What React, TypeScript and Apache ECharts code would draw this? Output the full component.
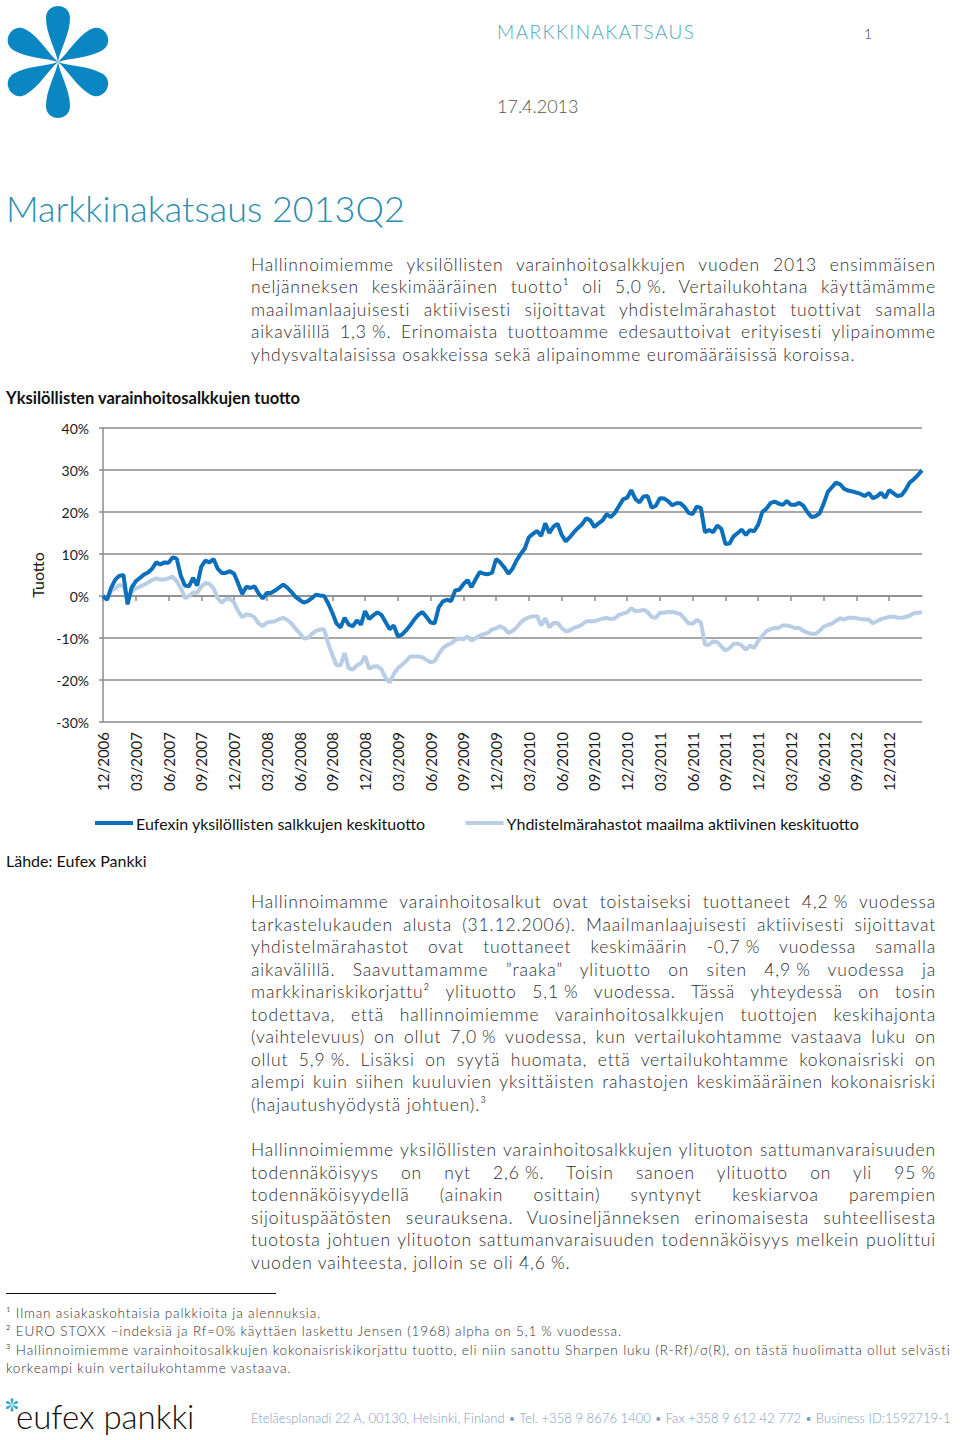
import React, { useEffect, useRef } from "react";
import * as echarts from "echarts";

// ---------- DATA ----------
const quarterLabels = [
  "12/2006", "03/2007", "06/2007", "09/2007", "12/2007", "03/2008", "06/2008", "09/2008", "12/2008",
  "03/2009", "06/2009", "09/2009", "12/2009", "03/2010", "06/2010", "09/2010", "12/2010",
  "03/2011", "06/2011", "09/2011", "12/2011", "03/2012", "06/2012", "09/2012", "12/2012",
];
const pointsPerQuarter = 8;

const seriesNames = [
  "Eufexin yksilöllisten salkkujen keskituotto",
  "Yhdistelmärahastot maailma aktiivinen keskituotto",
];

// Eufex individual portfolios, cumulative return %
const eufexReturn = [
  0, -0.9, 2.0, 3.9, 4.8, 5.0, -2.0, 2.0,
  3.5, 4.3, 5.1, 5.6, 6.5, 8.0, 7.5, 8.0,
  7.9, 9.2, 8.9, 4.8, 2.5, 2.3, 4.3, 2.5,
  7.0, 8.4, 8.0, 8.8, 6.5, 5.5, 5.5, 5.9,
  5.3, 3.0, 0.5, 2.2, 1.9, 2.3, 0.6, -0.6,
  0.7, 0.7, 1.3, 2.0, 2.7, 2.0, 1.0, -0.2,
  -0.9, -1.6, -1.2, -0.5, 0.3, 0.1, 0, -1.8,
  -4.0, -6.5, -7.5, -5.2, -6.8, -7.2, -5.8, -6.8,
  -3.6, -5.5, -4.6, -3.9, -4.5, -6.2, -7.9, -7.0,
  -9.6, -9.2, -8.2, -7.0, -5.6, -4.5, -3.8, -5.0,
  -6.3, -6.5, -2.7, -1.3, -0.9, -1.2, 1.3, 1.5,
  2.8, 3.8, 2.1, 4.0, 5.7, 5.3, 5.2, 5.5,
  8.8, 8.0, 6.8, 5.3, 6.5, 8.5, 10.0, 11.3,
  14.0, 14.8, 15.5, 14.3, 17.3, 15.0, 16.5, 17.2,
  14.6, 13.0, 14.0, 15.2, 16.2, 17.1, 18.5, 18.0,
  16.4, 17.3, 18.0, 19.5, 18.8, 19.8, 21.4, 23.0,
  23.4, 25.2, 23.1, 22.3, 23.7, 23.8, 21.0, 21.5,
  23.3, 23.2, 22.6, 21.6, 22.1, 22.1, 21.2, 19.8,
  19.5, 21.3, 21.0, 15.2, 15.7, 15.2, 16.8, 16.0,
  12.4, 12.5, 14.2, 15.0, 15.8, 14.5, 15.7, 15.4,
  17.0, 20.0, 20.8, 22.1, 22.5, 22.0, 21.7, 22.6,
  21.7, 21.7, 22.2, 21.5, 20.0, 18.8, 19.0, 19.7,
  22.0, 24.8, 25.9, 27.0, 26.6, 25.5, 25.1, 24.9,
  24.6, 24.3, 23.8, 24.5, 23.3, 23.7, 24.6, 23.4,
  25.2, 24.5, 23.8, 24.0, 25.3, 27.0, 27.8, 28.8,
  29.9,
];

// Global actively managed balanced funds, cumulative return %
const fundsReturn = [
  0, -0.5, 1.2, 1.9, 2.6, 2.4, -0.8, 1.0,
  1.8, 2.2, 2.7, 3.2, 3.8, 4.2, 3.9, 3.9,
  4.2, 4.6, 3.5, 1.9, -0.5, 0.0, 0.8, 0.8,
  2.2, 3.1, 2.9, 1.8, -0.5, -1.6, -0.7, -0.7,
  -1.5, -3.6, -5.0, -4.4, -4.5, -5.1, -6.5, -7.2,
  -6.3, -6.2, -6.0, -5.5, -5.2, -5.7, -6.5, -7.8,
  -8.8, -10.1, -10.0, -9.0, -8.3, -8.0, -8.0, -11.3,
  -14.0, -16.5, -16.5, -13.6, -17.2, -17.5, -16.5, -16.0,
  -14.3, -17.3, -16.8, -16.7, -17.5, -19.4, -20.6, -18.6,
  -17.2, -16.4, -15.5, -14.4, -14.4, -14.4, -14.6, -15.2,
  -15.8, -15.5, -13.8, -12.4, -11.7, -11.3, -10.5, -10.1,
  -10.3, -9.6, -10.6, -10.0, -9.4, -9.1, -8.8, -8.0,
  -7.7, -7.2, -7.7, -8.8, -8.3, -7.5, -6.3, -5.5,
  -5.1, -4.8, -4.8, -7.0, -5.3, -7.5, -6.4, -6.4,
  -7.6, -8.4, -8.2, -7.6, -7.3, -6.8, -6.0, -6.0,
  -6.0, -5.7, -5.4, -5.2, -5.5, -5.3, -4.5, -4.2,
  -3.9, -2.9, -3.6, -3.5, -3.3, -3.8, -5.0, -5.2,
  -4.0, -4.0, -3.8, -3.8, -4.0, -4.3, -5.4, -6.5,
  -6.6, -5.7, -6.3, -11.6, -11.6, -10.8, -11.0, -12.0,
  -13.0, -12.4, -11.4, -11.3, -11.8, -12.8, -11.8, -12.4,
  -10.7, -9.5, -8.4, -7.9, -7.6, -7.6, -7.0, -7.0,
  -7.3, -7.6, -7.6, -8.3, -8.7, -9.0, -9.0, -8.3,
  -7.3, -6.9, -6.6, -5.9, -5.3, -5.6, -5.2, -5.2,
  -5.3, -5.5, -5.6, -5.6, -6.5, -6.0, -5.5, -5.2,
  -5.0, -4.9, -5.1, -5.2, -5.0, -4.7, -4.1, -4.0,
  -3.9,
];

const yMin = -30;
const yMax = 40;
const yInterval = 10;

// ---------- TEXTS ----------
const para1 = [
  "Hallinnoimiemme yksilöllisten varainhoitosalkkujen vuoden 2013 ensimmäisen",
  "neljänneksen keskimääräinen tuotto¹ oli 5,0\u202F%. Vertailukohtana käyttämämme",
  "maailmanlaajuisesti aktiivisesti sijoittavat yhdistelmärahastot tuottivat samalla",
  "aikavälillä 1,3\u202F%. Erinomaista tuottoamme edesauttoivat erityisesti ylipainomme",
  "yhdysvaltalaisissa osakkeissa sekä alipainomme euromääräisissä koroissa.",
];
const para2 = [
  "Hallinnoimamme varainhoitosalkut ovat toistaiseksi tuottaneet 4,2\u202F% vuodessa",
  "tarkastelukauden alusta (31.12.2006). Maailmanlaajuisesti aktiivisesti sijoittavat",
  "yhdistelmärahastot ovat tuottaneet keskimäärin -0,7\u202F% vuodessa samalla",
  "aikavälillä. Saavuttamamme ”raaka” ylituotto on siten 4,9\u202F% vuodessa ja",
  "markkinariskikorjattu² ylituotto 5,1\u202F% vuodessa. Tässä yhteydessä on tosin",
  "todettava, että hallinnoimiemme varainhoitosalkkujen tuottojen keskihajonta",
  "(vaihtelevuus) on ollut 7,0\u202F% vuodessa, kun vertailukohtamme vastaava luku on",
  "ollut 5,9\u202F%. Lisäksi on syytä huomata, että vertailukohtamme kokonaisriski on",
  "alempi kuin siihen kuuluvien yksittäisten rahastojen keskimääräinen kokonaisriski",
  "(hajautushyödystä johtuen).³",
];
const para3 = [
  "Hallinnoimiemme yksilöllisten varainhoitosalkkujen ylituoton sattumanvaraisuuden",
  "todennäköisyys on nyt 2,6\u202F%. Toisin sanoen ylituotto on yli 95\u202F%",
  "todennäköisyydellä (ainakin osittain) syntynyt keskiarvoa parempien",
  "sijoituspäätösten seurauksena. Vuosineljänneksen erinomaisesta suhteellisesta",
  "tuotosta johtuen ylituoton sattumanvaraisuuden todennäköisyys melkein puolittui",
  "vuoden vaihteesta, jolloin se oli 4,6\u202F%.",
];
const footnotes = [
  "¹ Ilman asiakaskohtaisia palkkioita ja alennuksia.",
  "² EURO STOXX –indeksiä ja Rf=0% käyttäen laskettu Jensen (1968) alpha on 5,1\u202F% vuodessa.",
  "³ Hallinnoimiemme varainhoitosalkkujen kokonaisriskikorjattu tuotto, eli niin sanottu Sharpen luku (R-Rf)/σ(R), on tästä huolimatta ollut selvästi",
  "korkeampi kuin vertailukohtamme vastaava.",
];

const FONT = "Lato, 'Open Sans', 'DejaVu Sans', sans-serif";

const PETAL_D =
  "M0,0 C-2,-12 -12,-28 -12,-44 C-12,-60 12,-60 12,-44 C12,-28 2,-12 0,0 Z";
let petalRegistered = false;
function ensurePetal() {
  if (petalRegistered) return;
  echarts.graphic.registerShape("petal", echarts.graphic.extendPath(PETAL_D, {}) as any);
  petalRegistered = true;
}

function petals(cx: number, cy: number, scale: number, fill: string) {
  const out: any[] = [];
  for (let k = 0; k < 6; k++) {
    out.push({
      type: "petal",
      x: cx,
      y: cy,
      scaleX: scale,
      scaleY: scale,
      rotation: (k * Math.PI) / 3,
      style: { fill },
      silent: true,
    });
  }
  return out;
}

function buildOption() {
  const categories = eufexReturn.map((_, i) => String(i));
  const isQuarter = (i: number) => i % pointsPerQuarter === 0;
  const labelFor = (i: number) =>
    isQuarter(i) ? quarterLabels[i / pointsPerQuarter] ?? "" : "";

  return {
    animation: false,
    textStyle: { fontFamily: FONT },
    grid: { left: 103, right: 38, top: 428, bottom: 718, containLabel: false },
    legend: {
      left: 95,
      top: 815,
      padding: 0,
      icon: "rect",
      itemWidth: 38,
      itemHeight: 4,
      itemGap: 40,
      selectedMode: false,
      textStyle: { fontSize: 16, color: "#111", fontFamily: FONT, padding: [0, 0, 0, -2] },
      data: [seriesNames[0], seriesNames[1]],
    },
    xAxis: [
      {
        type: "category",
        position: "bottom",
        data: categories,
        boundaryGap: false,
        axisLine: { show: true, onZero: true, lineStyle: { color: "#8c8c8c", width: 1.5 } },
        axisTick: {
          show: true,
          length: 5,
          interval: (i: number) => isQuarter(i) && i < eufexReturn.length - 1,
          lineStyle: { color: "#8c8c8c", width: 1.5 },
        },
        axisLabel: { show: false },
        splitLine: { show: false },
      },
      {
        type: "category",
        position: "bottom",
        data: categories,
        boundaryGap: false,
        axisLine: { show: false, onZero: false },
        axisTick: { show: false },
        axisLabel: {
          show: true,
          rotate: 90,
          margin: 10,
          fontSize: 15,
          color: "#1a1a1a",
          fontFamily: FONT,
          interval: (i: number) => isQuarter(i) && labelFor(i) !== "",
          formatter: (_v: string, i: number) => labelFor(i),
        },
        splitLine: { show: false },
      },
    ],
    yAxis: {
      type: "value",
      min: yMin,
      max: yMax,
      interval: yInterval,
      name: "Tuotto",
      nameLocation: "middle",
      nameGap: 57,
      nameRotate: 90,
      nameTextStyle: { fontSize: 16, color: "#1a1a1a", fontFamily: FONT },
      axisLine: { show: true, lineStyle: { color: "#8c8c8c", width: 1.5 } },
      axisTick: { show: true, length: 4, lineStyle: { color: "#8c8c8c", width: 1.5 } },
      axisLabel: { formatter: "{value}%", fontSize: 14, color: "#1a1a1a", margin: 14, fontFamily: FONT },
      splitLine: { show: true, lineStyle: { color: "#8c8c8c", width: 1.5 } },
    },
    series: [
      {
        name: seriesNames[1],
        type: "line",
        data: fundsReturn,
        xAxisIndex: 0,
        showSymbol: false,
        symbol: "none",
        lineStyle: { color: "#b9cde5", width: 4 },
        itemStyle: { color: "#b9cde5" },
        z: 2,
      },
      {
        name: seriesNames[0],
        type: "line",
        data: eufexReturn,
        xAxisIndex: 0,
        showSymbol: false,
        symbol: "none",
        lineStyle: { color: "#0b6fbb", width: 4 },
        itemStyle: { color: "#0b6fbb" },
        z: 3,
      },
    ],
    graphic: [
      ...petals(58, 62, 1, "#0a86c2"),
      ...petals(12, 1405, 0.12, "#3aa9c9"),
      {
        type: "text",
        x: 6,
        y: 398,
        style: {
          text: "Yksilöllisten varainhoitosalkkujen tuotto",
          fontSize: 16.5,
          fontWeight: "bold",
          fontFamily: FONT,
          fill: "#111",
          verticalAlign: "middle",
        },
      },
      {
        type: "text",
        x: 6,
        y: 860,
        style: {
          text: "Lähde: Eufex Pankki",
          fontSize: 16,
          fontFamily: FONT,
          fill: "#111",
          verticalAlign: "middle",
        },
      },
      {
        type: "text",
        x: 16,
        y: 1416,
        style: {
          text: "eufex pankki",
          fontSize: 33,
          fontWeight: 300,
          fontFamily: FONT,
          fill: "#111",
          verticalAlign: "middle",
        },
      },
    ],
  };
}

function Paragraph(props: { lines: string[]; top: number; left: number; width: number; lineHeight: number; fontSize: number }) {
  const { lines, top, left, width, lineHeight, fontSize } = props;
  return (
    <div
      style={{
        position: "absolute",
        left,
        top,
        width,
        fontSize,
        lineHeight: lineHeight + "px",
        color: "#2e2e2e",
        fontWeight: 300,
        letterSpacing: 0.85,
        fontFamily: FONT,
      }}
    >
      {lines.map((l, i) => {
        const last = i === lines.length - 1;
        return (
          <div
            key={i}
            style={{
              textAlign: last ? "left" : "justify",
              textAlignLast: last ? "left" : "justify",
              whiteSpace: "nowrap",
            } as React.CSSProperties}
          >
            {l}
          </div>
        );
      })}
    </div>
  );
}

export default function App() {
  const ref = useRef<HTMLDivElement>(null);
  useEffect(() => {
    ensurePetal();
    const chart = echarts.init(ref.current as HTMLDivElement, null, { renderer: "svg" });
    chart.setOption(buildOption() as any);
    return () => chart.dispose();
  }, []);

  const abs = (left: number, top: number, extra: React.CSSProperties): React.CSSProperties => ({
    position: "absolute",
    left,
    top,
    whiteSpace: "nowrap",
    fontFamily: FONT,
    lineHeight: 1.2,
    ...extra,
  });

  return (
    <div
      style={{
        position: "absolute",
        left: 0,
        top: 0,
        width: 960,
        height: 1440,
        background: "#fff",
        overflow: "hidden",
      }}
    >
      <div ref={ref} style={{ position: "absolute", left: 0, top: 0, width: 960, height: 1440 }} />
      <div style={abs(497, 21, { fontSize: 19, color: "#52a7b7", fontWeight: 300, letterSpacing: 1.4 })}>MARKKINAKATSAUS</div>
      <div style={abs(864, 26, { fontSize: 14, color: "#444", fontWeight: 300 })}>1</div>
      <div style={abs(497, 96, { fontSize: 18, color: "#555", fontWeight: 300 })}>17.4.2013</div>
      <div style={abs(6, 187, { fontSize: 36, color: "#2b8db0", fontWeight: 300 })}>Markkinakatsaus 2013Q2</div>

      <Paragraph lines={para1} top={253.5} left={251} width={685} lineHeight={22.5} fontSize={17.5} />
      <Paragraph lines={para2} top={891} left={251} width={685} lineHeight={22.55} fontSize={17.5} />
      <Paragraph lines={para3} top={1139} left={251} width={685} lineHeight={22.6} fontSize={17.5} />

      <div style={{ position: "absolute", left: 6, top: 1293, width: 270, height: 1, background: "#111" }} />
      <div style={{ position: "absolute", left: 6, top: 1304, fontFamily: FONT, fontSize: 13.5, lineHeight: "18.3px", color: "#333", fontWeight: 300, letterSpacing: 0.85, whiteSpace: "nowrap" }}>
        {footnotes.map((f, i) => (
          <div key={i}>{f}</div>
        ))}
      </div>
      <div style={abs(251, 1411, { fontSize: 13, color: "#7f9dbd", fontWeight: 300, letterSpacing: 0.05 })}>
        Eteläesplanadi 22 A, 00130, Helsinki, Finland • Tel. +358 9 8676 1400 • Fax +358 9 612 42 772 • Business ID:1592719-1
      </div>
    </div>
  );
}
